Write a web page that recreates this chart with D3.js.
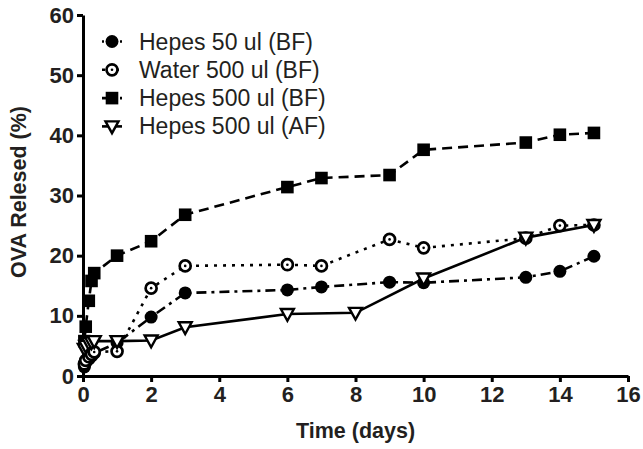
<!DOCTYPE html>
<html>
<head>
<meta charset="utf-8">
<script src="https://cdn.jsdelivr.net/npm/d3@7"></script>
<style>
  body { margin: 0; background: #fff; }
  svg { display: block; font-family: "Liberation Sans", Arial, sans-serif; }
</style>
</head>
<body>
<svg id="chart" width="643" height="449"></svg>
<script>
const svg = d3.select("#chart");

// data (days, % released)
const seriesNames = ["Hepes 50 ul (BF)", "Water 500 ul (BF)", "Hepes 500 ul (BF)", "Hepes 500 ul (AF)"];
const daysBF = [0.04, 0.08, 0.17, 0.25, 0.33, 1, 2, 3, 6, 7, 9, 10, 13, 14, 15];
const hepes50BF = [1.5, 2.2, 2.8, 3.3, 3.8, 5.5, 9.8, 13.8, 14.3, 14.8, 15.6, 15.5, 16.4, 17.4, 19.9];
const water500BF = [2.0, 2.6, 3.2, 3.6, 4.0, 4.1, 14.6, 18.3, 18.5, 18.3, 22.7, 21.3, 22.9, 25.0, 25.1];
const hepes500BF = [5.8, 8.2, 12.5, 15.8, 17.1, 20.0, 22.4, 26.8, 31.4, 32.9, 33.4, 37.6, 38.8, 40.1, 40.4];
const daysAF = [0.04, 0.08, 0.17, 0.25, 0.33, 1, 2, 3, 6, 8, 10, 13, 15];
const hepes500AF = [4.5, 5.0, 5.5, 5.6, 5.8, 5.8, 5.9, 8.1, 10.3, 10.5, 16.2, 23.0, 25.1];
const xTicks = [0, 2, 4, 6, 8, 10, 12, 14, 16];
const yTicks = [0, 10, 20, 30, 40, 50, 60];

const series = [
  { name: seriesNames[0], days: daysBF, values: hepes50BF, marker: "dot", dash: "10,5,3,5" },
  { name: seriesNames[1], days: daysBF, values: water500BF, marker: "ring", dash: "3,6" },
  { name: seriesNames[2], days: daysBF, values: hepes500BF, marker: "square", dash: "10,6" },
  { name: seriesNames[3], days: daysAF, values: hepes500AF, marker: "tri", dash: null }
];

const x = d3.scaleLinear().domain([0, 16]).range([83, 628]);
const y = d3.scaleLinear().domain([0, 60]).range([376, 15]);

const ink = "#000";
const textInk = "#231f20";

// axes
const xAxis = svg.append("g")
  .attr("transform", `translate(0,${y(0)})`)
  .call(d3.axisBottom(x).tickValues(xTicks).tickSize(6).tickSizeOuter(0).tickPadding(4));
const yAxis = svg.append("g")
  .attr("transform", `translate(${x(0)},0)`)
  .call(d3.axisLeft(y).tickValues(yTicks).tickSize(6).tickSizeOuter(0).tickPadding(3));

[xAxis, yAxis].forEach(ax => {
  ax.select(".domain").attr("stroke", ink).attr("stroke-width", 3);
  ax.selectAll(".tick line").attr("stroke", ink).attr("stroke-width", 3);
  ax.selectAll(".tick text")
    .attr("fill", textInk)
    .style("font-size", "22px")
    .style("font-weight", "bold")
    .style("font-family", "'Liberation Sans', Arial, sans-serif");
});

// axis titles
svg.append("text")
  .attr("x", (x(0) + x(16)) / 2)
  .attr("y", 438)
  .attr("text-anchor", "middle")
  .attr("fill", textInk)
  .style("font-size", "21.5px")
  .style("font-weight", "bold")
  .text("Time (days)");

svg.append("text")
  .attr("transform", "translate(26,192) rotate(-90)")
  .attr("text-anchor", "middle")
  .attr("fill", textInk)
  .style("font-size", "21.5px")
  .style("font-weight", "bold")
  .text("OVA Relesed (%)");

function drawMarker(g, kind, cx, cy) {
  if (kind === "dot") {
    g.append("circle").attr("cx", cx).attr("cy", cy).attr("r", 6.5).attr("fill", ink);
  } else if (kind === "ring") {
    g.append("circle").attr("cx", cx).attr("cy", cy).attr("r", 5.5)
      .attr("fill", "#fff").attr("stroke", ink).attr("stroke-width", 2.7);
    g.append("circle").attr("cx", cx).attr("cy", cy).attr("r", 1.3).attr("fill", ink);
  } else if (kind === "square") {
    g.append("rect").attr("x", cx - 6.3).attr("y", cy - 6.3).attr("width", 12.6).attr("height", 12.6).attr("fill", ink);
  } else {
    g.append("path")
      .attr("d", `M${cx - 6.5},${cy - 5} L${cx + 6.5},${cy - 5} L${cx},${cy + 6.8} Z`)
      .attr("fill", "#fff").attr("stroke", ink).attr("stroke-width", 2.4).attr("stroke-linejoin", "miter");
  }
}

const line = d3.line().x(d => x(d[0])).y(d => y(d[1]));

const plot = svg.append("g");
series.forEach(s => {
  const pts = s.days.map((d, i) => [d, s.values[i]]);
  plot.append("path")
    .datum(pts)
    .attr("d", line)
    .attr("fill", "none")
    .attr("stroke", ink)
    .attr("stroke-width", 2.6)
    .attr("stroke-dasharray", s.dash);
});
series.forEach(s => {
  const g = plot.append("g");
  s.days.forEach((d, i) => drawMarker(g, s.marker, x(d), y(s.values[i])));
});

// legend
const legend = svg.append("g");
series.forEach((s, i) => {
  const ly = 41.5 + i * 28.3;
  legend.append("line")
    .attr("x1", 102).attr("x2", 122).attr("y1", ly).attr("y2", ly)
    .attr("stroke", ink).attr("stroke-width", 2.6)
    .attr("stroke-dasharray", s.dash ? (i === 0 ? "2,4" : s.dash === "3,6" ? "3,4" : "5,4") : null);
  drawMarker(legend, s.marker, 112, ly);
  legend.append("text")
    .attr("x", 139)
    .attr("y", ly + 8)
    .attr("fill", textInk)
    .style("font-size", "23px")
    .text(s.name);
});
</script>
</body>
</html>
